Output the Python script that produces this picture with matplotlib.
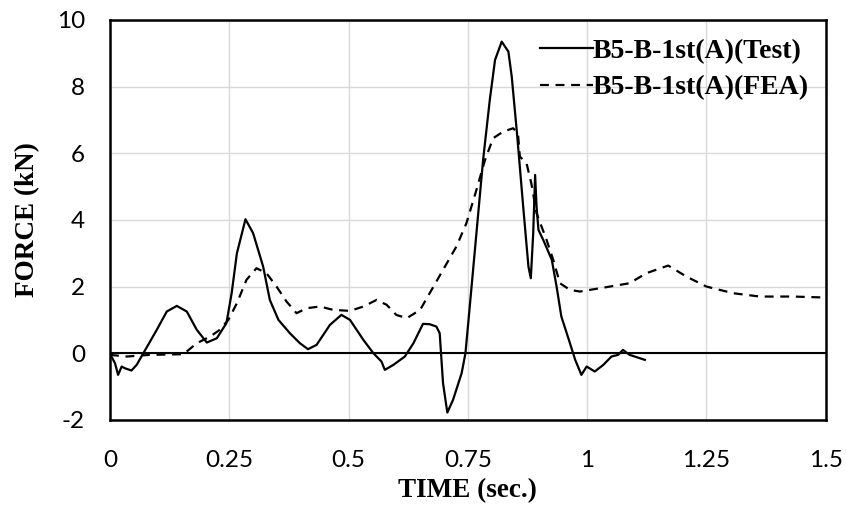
import matplotlib
matplotlib.use("Agg")
import matplotlib.pyplot as plt

plt.rcParams["axes.unicode_minus"] = False

# Test record (solid)
t_test = [0, 0.0105, 0.017, 0.0245, 0.031, 0.045, 0.056, 0.07, 0.098, 0.119, 0.14, 0.161,
          0.182, 0.203, 0.224, 0.244, 0.255, 0.266, 0.284, 0.3, 0.321, 0.335, 0.353, 0.377,
          0.398, 0.415, 0.433, 0.461, 0.485, 0.503, 0.531, 0.552, 0.569, 0.576, 0.594, 0.618,
          0.636, 0.656, 0.67, 0.684, 0.691, 0.698, 0.707, 0.719, 0.737, 0.745, 0.754, 0.768,
          0.782, 0.796, 0.807, 0.821, 0.835, 0.842, 0.853, 0.866, 0.877, 0.882, 0.887, 0.891,
          0.894, 0.898, 0.908, 0.926, 0.936, 0.946, 0.964, 0.975, 0.988, 0.999, 1.016, 1.034,
          1.051, 1.065, 1.075, 1.089, 1.121]
f_test = [-0.02, -0.3, -0.65, -0.4, -0.45, -0.52, -0.35, 0.0, 0.7, 1.25, 1.42, 1.25,
          0.7, 0.32, 0.45, 0.9, 1.8, 3.0, 4.02, 3.6, 2.6, 1.6, 1.0, 0.6,
          0.3, 0.12, 0.25, 0.85, 1.15, 1.0, 0.4, 0.0, -0.25, -0.5, -0.35, -0.1,
          0.3, 0.88, 0.87, 0.8, 0.6, -0.9, -1.78, -1.4, -0.6, 0.0, 1.4, 3.6,
          5.8, 7.6, 8.8, 9.35, 9.05, 8.3, 6.6, 4.4, 2.6, 2.25, 3.6, 5.35,
          4.4, 3.7, 3.4, 2.8, 2.0, 1.1, 0.3, -0.2, -0.65, -0.4, -0.55, -0.35,
          -0.1, -0.05, 0.1, -0.05, -0.2]

# FEA result (dashed)
t_fea = [0, 0.035, 0.084, 0.154, 0.182, 0.21, 0.23, 0.248, 0.266, 0.286, 0.307, 0.328,
         0.349, 0.37, 0.391, 0.412, 0.44, 0.468, 0.503, 0.531, 0.559, 0.58, 0.6, 0.622,
         0.65, 0.67, 0.698, 0.726, 0.747, 0.768, 0.786, 0.803, 0.824, 0.845, 0.855, 0.859,
         0.873, 0.883, 0.894, 0.915, 0.929, 0.943, 0.964, 0.985, 1.048, 1.089, 1.124, 1.17,
         1.208, 1.25, 1.306, 1.362, 1.432, 1.5]
f_fea = [-0.05, -0.1, -0.05, -0.03, 0.3, 0.5, 0.7, 1.0, 1.5, 2.2, 2.55, 2.4,
         2.0, 1.55, 1.2, 1.35, 1.4, 1.3, 1.27, 1.4, 1.6, 1.45, 1.15, 1.05,
         1.3, 1.8, 2.5, 3.2, 3.9, 4.9, 5.8, 6.45, 6.65, 6.75, 6.6, 5.9,
         5.7, 5.1, 4.2, 3.4, 2.8, 2.1, 1.9, 1.85, 2.0, 2.1, 2.4, 2.63,
         2.3, 2.0, 1.8, 1.7, 1.7, 1.67]

x_ticks = [0, 0.25, 0.5, 0.75, 1, 1.25, 1.5]
x_labels = ["0", "0.25", "0.5", "0.75", "1", "1.25", "1.5"]
y_ticks = [-2, 0, 2, 4, 6, 8, 10]

fig = plt.figure(figsize=(8.46, 5.12), dpi=100)
ax = fig.add_axes([0.130, 0.180, 0.846, 0.781])

ax.plot(t_test, f_test, color="black", lw=1.6, label="B5-B-1st(A)(Test)", zorder=3)
ax.plot(t_fea, f_fea, color="black", lw=1.6, dashes=(4, 3), label="B5-B-1st(A)(FEA)", zorder=3)
ax.axhline(0, color="black", lw=1.5, zorder=2)

ax.set_xlim(0, 1.5)
ax.set_ylim(-2, 10)
ax.set_xticks(x_ticks)
ax.set_xticklabels(x_labels)
ax.set_yticks(y_ticks)
ax.grid(True, color="#d9d9d9", lw=1.0, zorder=0)
ax.set_axisbelow(True)
ax.tick_params(axis="x", length=0, pad=22, labelsize=17.5)
ax.tick_params(axis="y", length=0, pad=18, labelsize=17.5)
for lab in ax.get_xticklabels() + ax.get_yticklabels():
    lab.set_fontfamily("Lato")
for sp in ax.spines.values():
    sp.set_linewidth(1.8)
    sp.set_color("black")

ax.set_xlabel("TIME (sec.)", family="Liberation Serif", fontweight="bold", fontsize=19.5, labelpad=5)
ax.set_ylabel("FORCE (kN)", family="Liberation Serif", fontweight="bold", fontsize=19.5, labelpad=12)

ax.legend(loc="upper right", bbox_to_anchor=(0.992, 0.982), frameon=False,
          prop={"family": "Liberation Serif", "weight": "bold", "size": 20},
          handlelength=1.9, handletextpad=0.0, borderaxespad=0.0, labelspacing=0.4)

fig.savefig("out.png", dpi=100)
